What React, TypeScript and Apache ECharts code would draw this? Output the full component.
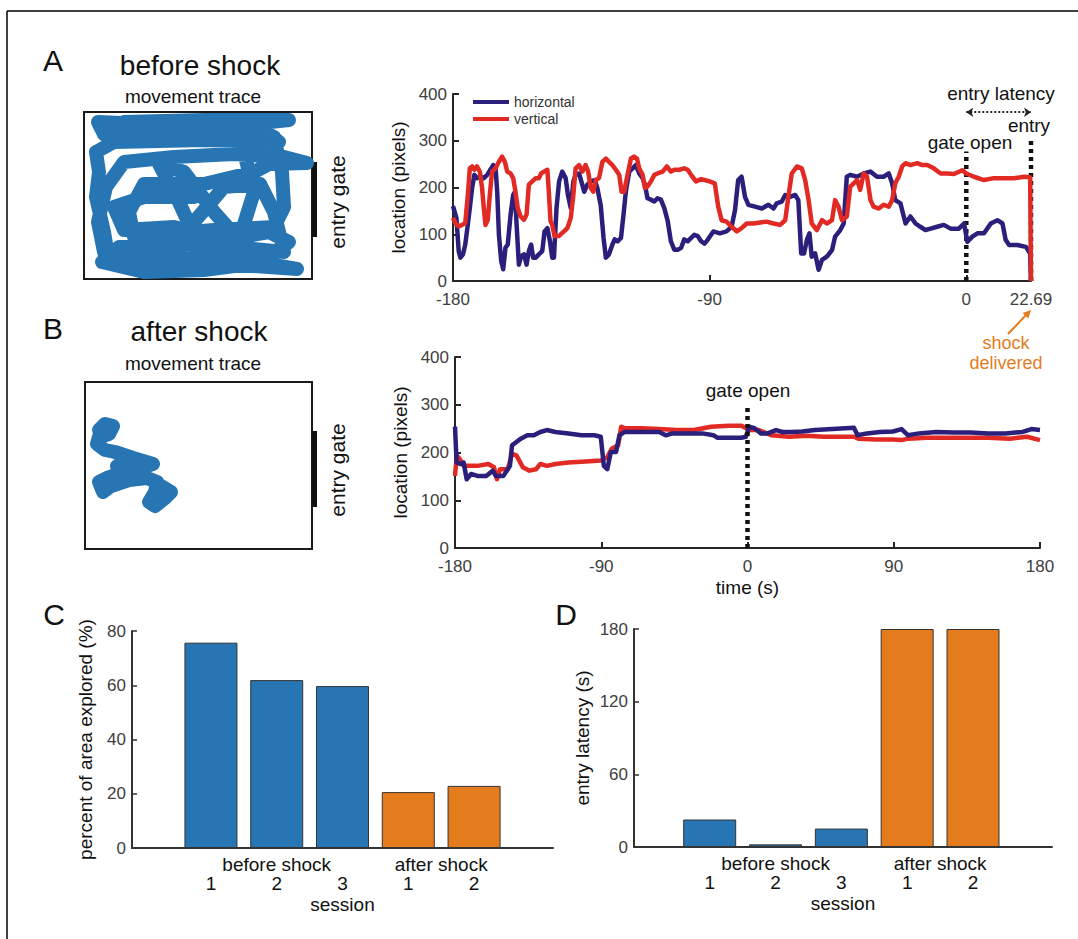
import React, { useEffect, useRef } from 'react';
import * as echarts from 'echarts';

const FONT = '"Liberation Sans", Arial, Helvetica, sans-serif';
const NAVY = '#2b1f7c';
const RED = '#e22a24';
const BLUE = '#2775b3';
const ORANGE = '#e47b1c';
const AX = '#262626';
const TICK = '#404040';

// ---------- Panel A: location over time (before shock) ----------
const aHorizontal: [number, number][] = [
  [-180, 160], [-179.8, 156], [-178.8, 135], [-178, 64], [-177.4, 50], [-176.5, 57], [-175.7, 78], [-174.8, 121],
  [-174.1, 156], [-173.3, 199], [-172.5, 227], [-171.6, 220], [-170.4, 223], [-169.2, 220], [-168, 227], [-166.9, 238],
  [-165.9, 248], [-165.1, 245], [-164.5, 191], [-163.9, 99], [-163.1, 43], [-162.4, 25], [-161.6, 71], [-160.8, 78],
  [-159.8, 142], [-158.9, 184], [-158.3, 191], [-157.7, 121], [-156.9, 35], [-156.1, 53], [-155.1, 57], [-154.2, 35],
  [-153.4, 64], [-152.6, 78], [-151.9, 50], [-151, 50], [-149.9, 57], [-148.7, 64], [-147.9, 106], [-146.9, 113],
  [-146, 85], [-145.2, 50], [-144.6, 50], [-143.7, 156], [-142.8, 213], [-141.7, 234], [-140.5, 220], [-139.7, 184],
  [-138.7, 156], [-137.8, 213], [-137, 227], [-135.8, 230], [-135, 213], [-134, 191], [-132.9, 206], [-131.7, 213],
  [-130.3, 216], [-129.4, 199], [-128.2, 162], [-127.2, 92], [-126.4, 50], [-125.3, 57], [-124.1, 78], [-123.3, 89],
  [-122.3, 85], [-121.1, 92], [-120.2, 142], [-119.4, 191], [-118.2, 234], [-117, 241], [-115.9, 248], [-114.7, 230],
  [-113.5, 220], [-112.7, 206], [-111.8, 177], [-110.6, 174], [-109.4, 170], [-108.3, 177], [-107.1, 174], [-105.9, 156],
  [-104.7, 128], [-103.6, 85], [-102.4, 67], [-101.2, 67], [-100, 71], [-98.9, 89], [-97.7, 85], [-96.5, 92],
  [-95.4, 99], [-94.2, 96], [-93, 85], [-91.8, 80], [-90.7, 88], [-88.7, 106], [-86.4, 102], [-84.1, 106],
  [-82.3, 116], [-81.1, 152], [-80, 216], [-78.8, 223], [-77.6, 180], [-76.4, 163], [-74.1, 159], [-71.7, 155],
  [-69.4, 163], [-67.6, 155], [-66.5, 166], [-64.7, 170], [-63.5, 184], [-61.8, 180], [-60, 184], [-58.9, 173],
  [-57.9, 59], [-56.9, 59], [-55.9, 88], [-55, 102], [-54.2, 52], [-53, 59], [-51.8, 24], [-50.6, 45],
  [-48.9, 52], [-47.1, 66], [-46, 95], [-44.2, 109], [-43, 123], [-41.9, 223], [-40.7, 227], [-38.3, 223],
  [-36, 230], [-33.6, 234], [-31.3, 223], [-29, 223], [-27.2, 230], [-26, 209], [-24.9, 173], [-23.1, 166],
  [-21.3, 123], [-19.6, 138], [-17.8, 123], [-16.1, 116], [-14.3, 109], [-12.5, 112], [-10.2, 116], [-7.9, 120],
  [-5.5, 112], [-2.6, 112], [-0.8, 123], [0.4, 84], [2.1, 95], [3.9, 102], [6.2, 102], [8.6, 123],
  [10.9, 130], [12.7, 123], [13.8, 88], [15, 77], [17.9, 77], [20.9, 73], [22.4, 59], [22.69, 0],
];
const aVertical: [number, number][] = [
  [-180, 135], [-179.2, 124], [-178, 117], [-176.8, 120], [-175.7, 124], [-174.8, 184], [-174.1, 241], [-173.3, 245],
  [-172.5, 238], [-171.6, 245], [-170.6, 234], [-169.8, 199], [-169.2, 156], [-168.6, 120], [-167.8, 131], [-167.1, 184],
  [-166.3, 234], [-165.1, 241], [-163.9, 255], [-162.8, 266], [-161.8, 255], [-161, 234], [-159.8, 230], [-158.9, 220],
  [-158.1, 191], [-157.3, 156], [-156.3, 138], [-155.1, 131], [-154.2, 142], [-153.4, 206], [-152.2, 213], [-151, 220],
  [-149.9, 220], [-149.1, 230], [-148.1, 234], [-146.9, 238], [-146.4, 191], [-145.8, 128], [-145.2, 120], [-144.4, 96],
  [-142.9, 96], [-141.1, 106], [-139.9, 113], [-138.7, 135], [-137.8, 184], [-137, 241], [-135.8, 248], [-134.6, 234],
  [-133.5, 248], [-132.6, 234], [-131.7, 199], [-130.8, 191], [-129.9, 216], [-128.8, 220], [-127.6, 255], [-126.4, 262],
  [-125.3, 255], [-124.1, 248], [-122.9, 238], [-121.7, 227], [-120.9, 191], [-120, 191], [-118.8, 227], [-117.6, 262],
  [-116.5, 266], [-115.5, 262], [-114.7, 241], [-113.5, 227], [-112.7, 199], [-111.8, 202], [-110.6, 213], [-109.4, 227],
  [-108.3, 230], [-106.5, 234], [-105, 245], [-103.6, 234], [-102.4, 238], [-100.6, 238], [-98.9, 241], [-97.7, 238],
  [-96.5, 227], [-94.8, 213], [-93, 218], [-90.5, 214], [-88.2, 209], [-87, 159], [-85.8, 130], [-84.1, 127],
  [-82.3, 116], [-80.5, 106], [-78.8, 113], [-77, 123], [-74.7, 123], [-72.3, 125], [-70, 127], [-67.6, 123],
  [-65.3, 120], [-63.5, 130], [-62.4, 180], [-61.2, 230], [-59.4, 245], [-57.7, 241], [-56.5, 216], [-55.3, 173],
  [-54.2, 123], [-52.4, 109], [-50.6, 130], [-48.9, 123], [-47.1, 130], [-46, 173], [-44.8, 159], [-43.6, 130],
  [-41.9, 138], [-40.7, 202], [-39.5, 209], [-38.3, 216], [-37.2, 195], [-36, 230], [-34.8, 223], [-33.6, 173],
  [-32.5, 159], [-30.7, 155], [-29, 163], [-27.2, 159], [-26, 173], [-24.9, 209], [-23.7, 223], [-22.5, 245],
  [-21.3, 252], [-19.6, 248], [-17.2, 252], [-15.5, 248], [-13.7, 248], [-11.4, 241], [-9, 230], [-6.7, 230],
  [-4.3, 229], [-1.4, 237], [0, 230], [2.7, 223], [6.2, 216], [9.7, 220], [13.2, 220], [16.8, 220],
  [20.3, 223], [22.4, 222], [22.69, 0],
];

// ---------- Panel B: location over time (after shock) ----------
const bHorizontal: [number, number][] = [
  [-180, 254], [-179, 179], [-176.8, 176], [-174.7, 179], [-172.8, 144], [-170.1, 155], [-166.2, 151], [-160.8, 151],
  [-156.8, 162], [-154.9, 151], [-150.2, 151], [-146.2, 172], [-144.9, 215], [-142.2, 222], [-139.5, 229], [-135.5, 236],
  [-131.5, 236], [-127.5, 243], [-123.5, 247], [-118.2, 243], [-110.2, 240], [-102.2, 236], [-94.3, 236], [-90.3, 233],
  [-88.4, 172], [-86.3, 165], [-84.1, 201], [-80.9, 201], [-78.8, 236], [-75.6, 243], [-65, 243], [-54.3, 243],
  [-50.3, 236], [-46.3, 240], [-38.3, 240], [-27.7, 240], [-21, 236], [-18.4, 231], [-11.7, 231], [-3.7, 231],
  [-1, 233], [1.1, 254], [4.3, 251], [8.3, 240], [12.3, 240], [17.6, 247], [21.6, 243], [26.9, 243],
  [33.6, 244], [41.6, 247], [52.2, 249], [60.2, 251], [65.5, 252], [67.7, 236], [73.5, 240], [81.5, 243],
  [89.5, 244], [94.8, 249], [98.8, 236], [105.5, 240], [116.1, 243], [126.8, 242], [137.4, 242], [148.1, 240],
  [158.7, 240], [169.4, 243], [174.7, 249], [180, 247],
];
const bVertical: [number, number][] = [
  [-180, 151], [-178.9, 194], [-177, 186], [-174.7, 172], [-171.5, 172], [-166.2, 172], [-159.5, 176], [-156, 169],
  [-154.2, 144], [-152.3, 165], [-147.5, 165], [-144.9, 197], [-142.2, 194], [-138.2, 169], [-134.2, 162], [-130.2, 165],
  [-127.5, 176], [-123.5, 172], [-118.2, 176], [-110.2, 179], [-99.6, 181], [-90.3, 183], [-86.3, 190], [-83.6, 208],
  [-79.6, 215], [-77.7, 254], [-75.6, 251], [-65, 251], [-54.3, 249], [-43.7, 247], [-33, 247], [-22.4, 254],
  [-11.7, 256], [-3.7, 256], [1.1, 247], [6.9, 247], [14.9, 236], [25.6, 233], [36.2, 235], [46.9, 233],
  [57.5, 233], [65.5, 233], [68.2, 229], [78.8, 227], [89.5, 227], [94.8, 226], [98.8, 229], [110.8, 231],
  [121.4, 231], [132.1, 231], [148.1, 231], [161.4, 229], [172, 233], [180, 226],
];

// ---------- movement traces (arena coordinates, origin top-left) ----------
const aTrace: [number, number][] = [
  [40, 10], [120, 8], [205, 8], [150, 14], [60, 12], [14, 10], [20, 22], [90, 20], [180, 18], [195, 30],
  [120, 28], [30, 30], [12, 40], [15, 60], [12, 85], [20, 120], [25, 150], [70, 155], [140, 152], [213, 157],
  [160, 148], [90, 146], [20, 140], [14, 110], [22, 75], [40, 50], [90, 45], [150, 42], [200, 45], [223, 51],
  [185, 52], [170, 60], [120, 72], [60, 72], [45, 100], [50, 125], [80, 122], [130, 118], [190, 115], [200, 95],
  [198, 60], [190, 25], [160, 40], [170, 80], [155, 128], [130, 100], [100, 60], [75, 52], [95, 90], [120, 145],
  [110, 110], [140, 75], [176, 72], [190, 100], [200, 140], [150, 135], [100, 132], [35, 135], [18, 150], [60, 160],
  [120, 158], [180, 150], [205, 130], [185, 120], [140, 128], [90, 115], [40, 118], [30, 95], [60, 85], [110, 85],
];
const bTrace: [number, number][] = [
  [14, 48], [20, 42], [28, 44], [24, 52], [14, 55], [12, 62], [20, 68], [30, 70], [48, 76], [68, 82],
  [55, 86], [32, 84], [40, 90], [22, 96], [14, 100], [18, 110], [26, 104], [44, 98], [62, 96], [72, 100],
  [70, 110], [64, 120], [70, 124], [80, 116], [86, 110], [76, 104],
];

// ---------- Panels C & D ----------
const sessionLabels = ['1', '2', '3', '1', '2'];
const sessionGroups = ['before shock', 'before shock', 'before shock', 'after shock', 'after shock'];
const areaExplored = [75.7, 61.9, 59.7, 20.6, 22.9];
const entryLatency = [22.69, 2.2, 15.2, 180, 180];

const timeTicksA = [-180, -90, 0, 22.69];
const gateOpenTime = 0;
const entryTimeA = 22.69;
const gateLineTopA = 277;
const entryLineTopA = 303;
const latencyArrowLevel = 361;
const gateLineTopB = 300;

const groupColor: Record<string, string> = { 'before shock': BLUE, 'after shock': ORANGE };

const positions = sessionLabels.map((_, i) => i + 1);
const groupNames = Array.from(new Set(sessionGroups));
const groupCenters = groupNames.map((g) => {
  const ps = positions.filter((_, i) => sessionGroups[i] === g);
  return { name: g, center: ps.reduce((a, b) => a + b, 0) / ps.length };
});

const tickLabel = { fontSize: 17, color: TICK, fontFamily: FONT, showMinLabel: true, showMaxLabel: true };
const axisName = { fontSize: 19, color: '#111', fontFamily: FONT };
const axLine = { show: true, onZero: false, lineStyle: { color: AX, width: 2 } };
const axTick = { show: true, inside: true, length: 6, lineStyle: { color: AX, width: 2 } };
const barAxLine = { show: true, onZero: false, lineStyle: { color: '#333', width: 2 } };
const barText = { fontSize: 19, color: '#111', fontFamily: FONT, showMinLabel: true, showMaxLabel: true };

function txt(text: string, x: number, y: number, size: number, extra: any = {}) {
  return {
    type: 'text',
    x,
    y,
    rotation: extra.rotation || 0,
    silent: true,
    style: {
      text,
      fill: extra.fill || '#111',
      fontSize: size,
      fontFamily: FONT,
      align: 'center',
      verticalAlign: 'middle',
    },
  };
}

export default function App() {
  const ref = useRef<HTMLDivElement>(null);
  useEffect(() => {
    document.body.style.margin = '0';
    if (!ref.current) return;
    const chart = echarts.init(ref.current, undefined, { renderer: 'svg' });

    const traceLine = (data: [number, number][], xi: number) => ({
      type: 'line',
      xAxisIndex: xi,
      yAxisIndex: xi,
      data,
      showSymbol: false,
      symbol: 'none',
      silent: true,
      lineStyle: { width: 14, color: BLUE, cap: 'round', join: 'round' },
    });
    const locLine = (name: string, data: [number, number][], color: string, xi: number) => ({
      type: 'line',
      name,
      xAxisIndex: xi,
      yAxisIndex: xi,
      data,
      symbol: 'none',
      silent: true,
      itemStyle: { color },
      lineStyle: { width: 4.5, color, join: 'round' },
    });
    const dotted = (t: number, top: number, xi: number, extra: any = {}) => ({
      type: 'line',
      xAxisIndex: xi,
      yAxisIndex: xi,
      data: [[t, 0], [t, top]],
      symbol: 'none',
      silent: true,
      lineStyle: { width: 4.5, color: '#111', type: [4, 4] },
      ...extra,
    });
    const bars = (vals: number[], xi: number) => ({
      type: 'bar',
      xAxisIndex: xi,
      yAxisIndex: xi,
      barWidth: 53,
      silent: true,
      data: vals.map((v, i) => ({
        value: [positions[i], v],
        itemStyle: { color: groupColor[sessionGroups[i]], borderColor: '#333', borderWidth: 1 },
      })),
    });

    // session-number axis (with bars) and group-name axis (overlay grid, same extent)
    const sessionAxis = (gi: number, min: number, max: number) => ({
      gridIndex: gi, type: 'value', min, max,
      name: 'session', nameLocation: 'middle', nameGap: 47, nameTextStyle: axisName,
      axisLine: barAxLine, axisTick: { show: false },
      axisLabel: {
        ...barText, margin: 26, customValues: positions,
        formatter: (v: number) => sessionLabels[positions.findIndex((p) => Math.abs(p - v) < 1e-6)] ?? '',
      },
      splitLine: { show: false },
    });
    const groupAxis = (gi: number, min: number, max: number) => ({
      gridIndex: gi, type: 'value', min, max,
      axisLine: { show: false }, axisTick: { show: false },
      axisLabel: {
        ...barText, margin: 7, customValues: groupCenters.map((g) => g.center),
        formatter: (v: number) => (groupCenters.find((g) => Math.abs(g.center - v) < 1e-6) || { name: '' }).name,
      },
      splitLine: { show: false },
    });
    const hiddenY = (gi: number) => ({ gridIndex: gi, type: 'value', min: 0, max: 1, show: false });

    const option: any = {
      animation: false,
      textStyle: { fontFamily: FONT },
      legend: {
        left: 468,
        top: 90,
        orient: 'vertical',
        itemWidth: 36,
        itemHeight: 4,
        itemGap: 3,
        icon: 'rect',
        data: ['horizontal', 'vertical'],
        textStyle: { fontSize: 14, color: '#333', fontFamily: FONT, lineHeight: 14 },
        selectedMode: false,
      },
      grid: [
        { left: 84, top: 112, width: 228, height: 167, show: true, borderColor: '#1a1a1a', borderWidth: 2 },
        { left: 453, top: 94, width: 578, height: 187 },
        { left: 85, top: 382, width: 227, height: 167, show: true, borderColor: '#1a1a1a', borderWidth: 2 },
        { left: 455, top: 357, width: 585, height: 191 },
        { left: 132, top: 631, width: 421, height: 217 },
        { left: 634, top: 629, width: 418, height: 218 },
        { left: 132, top: 631, width: 421, height: 217 },
        { left: 634, top: 629, width: 418, height: 218 },
      ],
      xAxis: [
        { gridIndex: 0, type: 'value', min: 0, max: 228, show: false },
        {
          gridIndex: 1, type: 'value', min: -180, max: entryTimeA,
          axisLine: axLine,
          axisTick: { ...axTick, customValues: timeTicksA },
          axisLabel: { ...tickLabel, margin: 10, customValues: timeTicksA, formatter: (v: number) => String(v) },
          splitLine: { show: false },
        },
        { gridIndex: 2, type: 'value', min: 0, max: 227, show: false },
        {
          gridIndex: 3, type: 'value', min: -180, max: 180, interval: 90,
          name: 'time (s)', nameLocation: 'middle', nameGap: 30, nameTextStyle: axisName,
          axisLine: axLine, axisTick: axTick,
          axisLabel: { ...tickLabel, margin: 10 },
          splitLine: { show: false },
        },
        sessionAxis(4, -0.2, 6.2),
        sessionAxis(5, -0.15, 6.2),
        groupAxis(6, -0.2, 6.2),
        groupAxis(7, -0.15, 6.2),
      ],
      yAxis: [
        { gridIndex: 0, type: 'value', min: 0, max: 167, inverse: true, show: false },
        {
          gridIndex: 1, type: 'value', min: 0, max: 400, interval: 100,
          name: 'location (pixels)', nameLocation: 'middle', nameGap: 41, nameTextStyle: axisName,
          axisLine: axLine, axisTick: axTick, axisLabel: { ...tickLabel, margin: 6 },
          splitLine: { show: false },
        },
        { gridIndex: 2, type: 'value', min: 0, max: 167, inverse: true, show: false },
        {
          gridIndex: 3, type: 'value', min: 0, max: 400, interval: 100,
          name: 'location (pixels)', nameLocation: 'middle', nameGap: 41, nameTextStyle: axisName,
          axisLine: axLine, axisTick: axTick, axisLabel: { ...tickLabel, margin: 6 },
          splitLine: { show: false },
        },
        {
          gridIndex: 4, type: 'value', min: 0, max: 80, interval: 20,
          name: 'percent of area explored (%)', nameLocation: 'middle', nameGap: 37, nameTextStyle: axisName,
          axisLine: barAxLine,
          axisTick: { show: true, inside: true, length: 5, lineStyle: { color: '#333', width: 1.5 } },
          axisLabel: { ...tickLabel, margin: 6 },
          splitLine: { show: false },
        },
        {
          gridIndex: 5, type: 'value', min: 0, max: 180, interval: 60,
          name: 'entry latency (s)', nameLocation: 'middle', nameGap: 42, nameTextStyle: axisName,
          axisLine: barAxLine,
          axisTick: { show: true, inside: true, length: 5, lineStyle: { color: '#333', width: 1.5 } },
          axisLabel: { ...tickLabel, margin: 6 },
          splitLine: { show: false },
        },
        hiddenY(6),
        hiddenY(7),
      ],
      series: [
        traceLine(aTrace, 0),
        dotted(gateOpenTime, gateLineTopA, 1, {
          markLine: {
            silent: true,
            symbol: ['arrow', 'arrow'],
            symbolSize: [7, 7],
            label: { show: false },
            lineStyle: { type: 'dotted', color: '#222', width: 2 },
            data: [[{ coord: [gateOpenTime, latencyArrowLevel] }, { coord: [entryTimeA, latencyArrowLevel] }]],
          },
        }),
        dotted(entryTimeA, entryLineTopA, 1),
        locLine('horizontal', aHorizontal, NAVY, 1),
        locLine('vertical', aVertical, RED, 1),
        traceLine(bTrace, 2),
        locLine('vertical', bVertical, RED, 3),
        locLine('horizontal', bHorizontal, NAVY, 3),
        dotted(gateOpenTime, gateLineTopB, 3),
        bars(areaExplored, 4),
        bars(entryLatency, 5),
        { type: 'line', xAxisIndex: 6, yAxisIndex: 6, data: [], silent: true },
        { type: 'line', xAxisIndex: 7, yAxisIndex: 7, data: [], silent: true },
      ],
      graphic: [
        { type: 'line', silent: true, shape: { x1: 7, y1: 11, x2: 1078, y2: 11 }, style: { stroke: '#000', lineWidth: 1.5 } },
        { type: 'line', silent: true, shape: { x1: 7, y1: 11, x2: 7, y2: 939 }, style: { stroke: '#000', lineWidth: 1.5 } },
        txt('A', 53, 60, 30),
        txt('B', 53, 328, 30),
        txt('C', 54, 614, 30),
        txt('D', 566, 614, 30),
        txt('before shock', 200, 65, 28),
        txt('after shock', 199, 331, 28),
        txt('movement trace', 193, 96, 19),
        txt('movement trace', 193, 363, 19),
        txt('entry gate', 337, 202, 21, { rotation: Math.PI / 2 }),
        txt('entry gate', 337, 470, 21, { rotation: Math.PI / 2 }),
        { type: 'rect', silent: true, shape: { x: 312, y: 162, width: 5, height: 75 }, style: { fill: '#111' } },
        { type: 'rect', silent: true, shape: { x: 312, y: 431, width: 5, height: 76 }, style: { fill: '#111' } },
        txt('gate open', 970, 142, 19),
        txt('entry', 1029, 125, 19),
        txt('entry latency', 1001, 93, 19),
        txt('gate open', 748, 390, 19),
        txt('shock', 1006, 343, 18, { fill: ORANGE }),
        txt('delivered', 1006, 363, 18, { fill: ORANGE }),
        { type: 'line', silent: true, shape: { x1: 1008, y1: 334, x2: 1027, y2: 314 }, style: { stroke: ORANGE, lineWidth: 2 } },
        { type: 'polygon', silent: true, shape: { points: [[1031, 310], [1028.4, 318.6], [1022.6, 313]] }, style: { fill: ORANGE } },
      ],
    };
    chart.setOption(option);
    return () => chart.dispose();
  }, []);
  return <div ref={ref} style={{ position: 'absolute', left: 0, top: 0, width: 1078, height: 939, background: '#fff' }} />;
}
